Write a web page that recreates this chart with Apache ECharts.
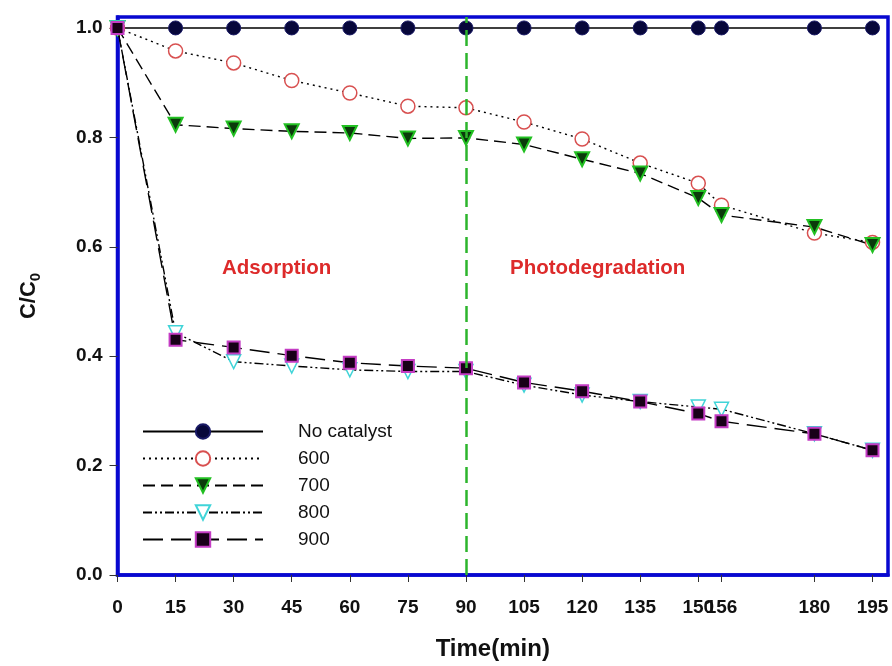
<!DOCTYPE html>
<html><head><meta charset="utf-8">
<script src="https://cdn.jsdelivr.net/npm/echarts@6/dist/echarts.min.js"></script>
<style>html,body{margin:0;padding:0;background:#fff}#c{width:892px;height:666px}</style>
</head><body><div id="c"></div>
<script>
const times = [0,15,30,45,60,75,90,105,120,135,150,156,180,195];
const xTickValues = [0,15,30,45,60,75,90,105,120,135,150,156,180,195];
const yTickValues = [0,0.2,0.4,0.6,0.8,1.0];
const seriesNames = ['No catalyst','600','700','800','900'];
const noCatalyst = [1,1,1,1,1,1,1,1,1,1,1,1,1,1];
const s600 = [1.0,0.958,0.936,0.904,0.881,0.857,0.854,0.828,0.797,0.753,0.716,0.676,0.625,0.608];
const s700 = [1.0,0.823,0.816,0.811,0.808,0.798,0.799,0.787,0.760,0.734,0.689,0.658,0.636,0.603];
const s800 = [1.0,0.443,0.390,0.382,0.375,0.372,0.372,0.347,0.329,0.317,0.307,0.303,0.258,0.228];
const s900 = [1.0,0.430,0.416,0.401,0.388,0.382,0.378,0.352,0.336,0.317,0.295,0.281,0.258,0.228];
const phaseBoundary = 90;

const FONT = 'Liberation Sans, Arial, sans-serif';
const BLUE = '#0808d0';
const pair = arr => times.map((t,i)=>[t,arr[i]]);
const downTri = 'path://M0,0 L10,0 L5,9 Z';

function mk(name, data, symbol, size, item, lineType, extra) {
  return Object.assign({
    name, type:'line', data: pair(data), symbol, symbolSize: size,
    itemStyle: item,
    lineStyle: {color:'#000', width:1.4, type: lineType},
    z: 3, animation:false
  }, extra||{});
}

const chart = echarts.init(document.getElementById('c'), null, {renderer:'canvas'});
chart.setOption({
  backgroundColor:'#fff',
  animation:false,
  grid:{left:117.5, right:4, top:17, bottom:91, show:true, borderColor:BLUE, borderWidth:3.5, backgroundColor:'transparent'},
  xAxis:{
    type:'value', min:0, max:199,
    name:'Time(min)', nameLocation:'middle', nameGap:62,
    nameTextStyle:{fontFamily:FONT, fontWeight:'bold', fontSize:24, color:'#111', padding:[0,20,0,0]},
    axisLine:{show:true, lineStyle:{color:BLUE, width:3.5}},
    axisTick:{show:true, inside:false, length:7, customValues:xTickValues, lineStyle:{color:'#333', width:1}},
    axisLabel:{customValues:xTickValues, margin:23, fontFamily:FONT, fontWeight:'bold', fontSize:19, color:'#111'},
    splitLine:{show:false}
  },
  yAxis:{
    type:'value', min:0, max:1.02,
    name:'{a|C/C}{b|0}', nameLocation:'middle', nameGap:74, nameRotate:90,
    nameTextStyle:{rich:{
      a:{fontFamily:FONT, fontWeight:'bold', fontSize:22, color:'#111', lineHeight:30},
      b:{fontFamily:FONT, fontWeight:'bold', fontSize:15, color:'#111', lineHeight:30, padding:[14,0,0,0]}
    }},
    axisLine:{show:true, lineStyle:{color:BLUE, width:3.5}},
    axisTick:{show:true, inside:false, length:8, customValues:yTickValues, lineStyle:{color:'#333', width:1}},
    axisLabel:{customValues:yTickValues, margin:15, fontFamily:FONT, fontWeight:'bold', fontSize:19, color:'#111',
      formatter: v => v.toFixed(1)},
    splitLine:{show:false}
  },
  legend:{
    orient:'vertical', left:142, top:422, padding:0,
    itemWidth:120, itemHeight:18, itemGap:8,
    textStyle:{fontFamily:FONT, fontSize:19, color:'#111', lineHeight:18, padding:[0,0,0,30]},
    data: seriesNames
  },
  graphic:[
    {type:'text', left:222, top:258, style:{text:'Adsorption', font:'bold 20.5px '+FONT, fill:'#dd2a2a'}},
    {type:'text', left:510, top:258, style:{text:'Photodegradation', font:'bold 20.5px '+FONT, fill:'#dd2a2a'}}
  ],
  series:[
    mk(seriesNames[0], noCatalyst, 'circle', 14, {color:'#07073a', borderColor:'#1a1a66', borderWidth:1}, 'solid', {
      markLine:{silent:true, symbol:'none', label:{show:false},
        lineStyle:{color:'#2cb52c', width:2.5, type:[16,7]},
        data:[{xAxis:phaseBoundary}]}
    }),
    mk(seriesNames[1], s600, 'circle', 14, {color:'#fff', borderColor:'#d85050', borderWidth:1.5}, [2,4]),
    mk(seriesNames[2], s700, downTri, 14, {color:'#0b3a0b', borderColor:'#22c022', borderWidth:2}, [12,6]),
    mk(seriesNames[3], s800, downTri, 14, {color:'#fff', borderColor:'#40d4d8', borderWidth:1.5}, [9,3,2,3,2,3]),
    mk(seriesNames[4], s900, 'rect', 12, {color:'#180018', borderColor:'#c43cc4', borderWidth:2}, [20,8])
  ]
});
</script></body></html>
